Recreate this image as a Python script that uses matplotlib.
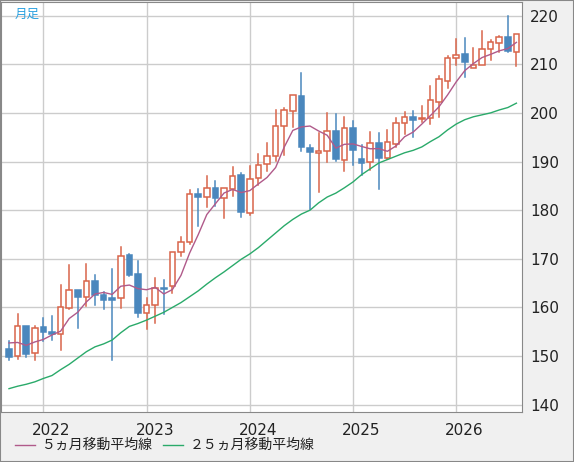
import matplotlib
matplotlib.use("Agg")
import matplotlib.pyplot as plt
import numpy as np

months = [f"{y}-{m:02d}" for y in range(2021, 2027) for m in range(1, 13)][8:68]
opens = [151.5,150.1,156.1,150.7,155.9,155.0,154.6,159.8,163.5,162.2,165.5,162.5,161.9,162.0,170.7,166.8,
         158.9,160.6,164.0,164.4,171.3,173.5,183.3,182.8,184.5,182.4,184.3,187.2,179.5,186.6,189.4,191.2,
         197.3,200.4,203.5,192.7,191.8,192.1,196.2,190.4,196.9,190.5,189.8,193.8,190.7,193.6,197.9,199.2,
         198.7,198.9,202.3,206.5,211.3,212.2,209.3,209.9,213.2,214.4,215.6,212.5]
closes = [149.9,156.1,150.5,155.7,154.9,154.5,160.0,163.5,162.2,165.5,162.6,161.6,161.5,170.6,166.7,158.9,
          160.5,163.9,163.8,171.3,173.5,183.4,182.8,184.5,182.4,184.5,187.1,179.6,186.5,189.3,191.1,197.3,
          200.6,203.7,192.9,192.0,192.2,196.2,190.5,196.8,192.4,189.6,193.8,190.7,194.0,197.9,199.1,198.6,
          198.9,202.7,207.0,211.3,212.0,210.5,209.9,213.2,214.6,215.6,212.8,216.3]
highs = [153.2,158.6,156.1,156.1,157.9,158.3,164.7,168.7,163.5,168.9,166.6,163.2,167.8,172.4,171.0,169.5,
         162.0,166.1,165.6,171.3,174.4,184.1,184.3,187.0,185.9,184.5,188.8,187.6,189.0,191.5,193.8,200.6,
         201.0,203.7,208.2,193.4,195.9,200.0,199.8,199.1,198.4,193.4,196.0,195.9,196.5,199.0,200.1,200.4,
         201.4,205.5,207.5,211.6,215.1,215.3,213.3,216.8,214.9,215.9,219.9,216.3]
lows = [149.1,149.4,149.9,149.1,153.0,153.4,151.2,159.6,155.7,160.2,160.4,159.6,149.1,159.8,166.5,158.0,
        155.6,156.8,158.6,163.0,170.6,173.0,176.8,180.6,180.9,178.3,183.0,178.5,179.0,185.2,188.1,190.2,
        191.4,197.1,192.2,180.2,183.8,190.0,190.2,188.1,189.3,187.3,188.2,184.3,190.5,192.9,195.7,195.1,
        198.1,197.7,199.1,205.1,209.8,207.4,209.2,209.9,210.8,212.6,212.5,209.6]
ma25 = [143.3,143.8,144.2,144.7,145.4,146.0,147.2,148.3,149.6,150.9,151.9,152.5,153.3,154.8,156.1,156.7,
        157.4,158.2,159.0,160.0,161.0,162.2,163.4,164.8,166.1,167.3,168.6,169.9,171.0,172.3,173.8,175.3,
        176.8,178.1,179.2,180.0,181.5,182.7,183.5,184.6,185.8,187.3,188.5,189.7,190.4,191.1,191.8,192.3,
        193.0,194.1,195.1,196.5,197.7,198.6,199.2,199.6,200.0,200.6,201.1,202.0]
ma5_head = [152.7,152.8,152.2,152.9]
year_labels = ["2022", "2023", "2024", "2025", "2026"]

c = np.array(closes)
ma5 = np.array(ma5_head + [c[i-4:i+1].mean() for i in range(4, len(c))])

RED, BLUE = "#d9654a", "#4a87bd"
fig = plt.figure(figsize=(5.74, 4.62), dpi=100, facecolor="#f0f0f0")
ax = fig.add_axes([1/574, 50/462, 521/574, 410/462])
ax.set_facecolor("white")
x = np.arange(len(months))
w = 0.65
for i in x:
    o, cl, h, l = opens[i], closes[i], highs[i], lows[i]
    up = cl >= o
    col = RED if up else BLUE
    lo_b, hi_b = min(o, cl), max(o, cl)
    ax.plot([i, i], [l, lo_b], color=col, lw=1.1, zorder=2)
    ax.plot([i, i], [hi_b, h], color=col, lw=1.1, zorder=2)
    hgt = max(hi_b - lo_b, 0.25)
    if up:
        ax.add_patch(plt.Rectangle((i - w/2, lo_b), w, hgt, facecolor="white", edgecolor=col, lw=1.1, zorder=3))
    else:
        ax.add_patch(plt.Rectangle((i - w/2, lo_b), w, hgt, facecolor=col, edgecolor=col, lw=1.1, zorder=3))
ax.plot(x, ma5, color="#b05a8a", lw=1.0, zorder=4)
ax.plot(x, ma25, color="#2aaa6a", lw=1.0, zorder=4)

ax.set_xlim(-0.93, 59.65)
ax.set_ylim(138.5, 222.8)
jan = [i for i, m in enumerate(months) if m.endswith("-01")]
ax.set_xticks(jan)
ax.set_xticklabels([])
ax.set_yticks(np.arange(140, 221, 10))
ax.yaxis.tick_right()
ax.tick_params(axis="y", length=0, labelsize=11, pad=6, colors="#222222")
ax.tick_params(axis="x", length=0)
ax.grid(True, color="#cccccc", lw=1)
ax.set_axisbelow(True)
for s in ax.spines.values():
    s.set_color("#888888")
for j, lab in zip(jan, year_labels):
    ax.text(j + 0.95, -0.045, lab, transform=ax.get_xaxis_transform(), ha="center", va="center",
            fontsize=11, color="#222222")
ax.text(0.027, 0.985, "月足", transform=ax.transAxes, ha="left", va="top", fontsize=9,
        color="#29a0e0", family=["Noto Sans CJK JP", "DejaVu Sans"])

fig.lines.append(plt.Line2D([15/574, 35/574], [1-445/462]*2, color="#b05a8a", lw=1, transform=fig.transFigure))
fig.lines.append(plt.Line2D([163/574, 183/574], [1-445/462]*2, color="#2aaa6a", lw=1, transform=fig.transFigure))
fig.text(42/574, 1-445/462, "５ヵ月移動平均線", ha="left", va="center", fontsize=10,
         family=["Noto Sans CJK JP", "DejaVu Sans"], color="#222222")
fig.text(190/574, 1-445/462, "２５ヵ月移動平均線", ha="left", va="center", fontsize=10,
         family=["Noto Sans CJK JP", "DejaVu Sans"], color="#222222")
fig.patches.append(plt.Rectangle((0, 0), 1, 1, fill=False, edgecolor="#888888", lw=1.5, transform=fig.transFigure))
fig.savefig("out.png", dpi=100, facecolor=fig.get_facecolor())
